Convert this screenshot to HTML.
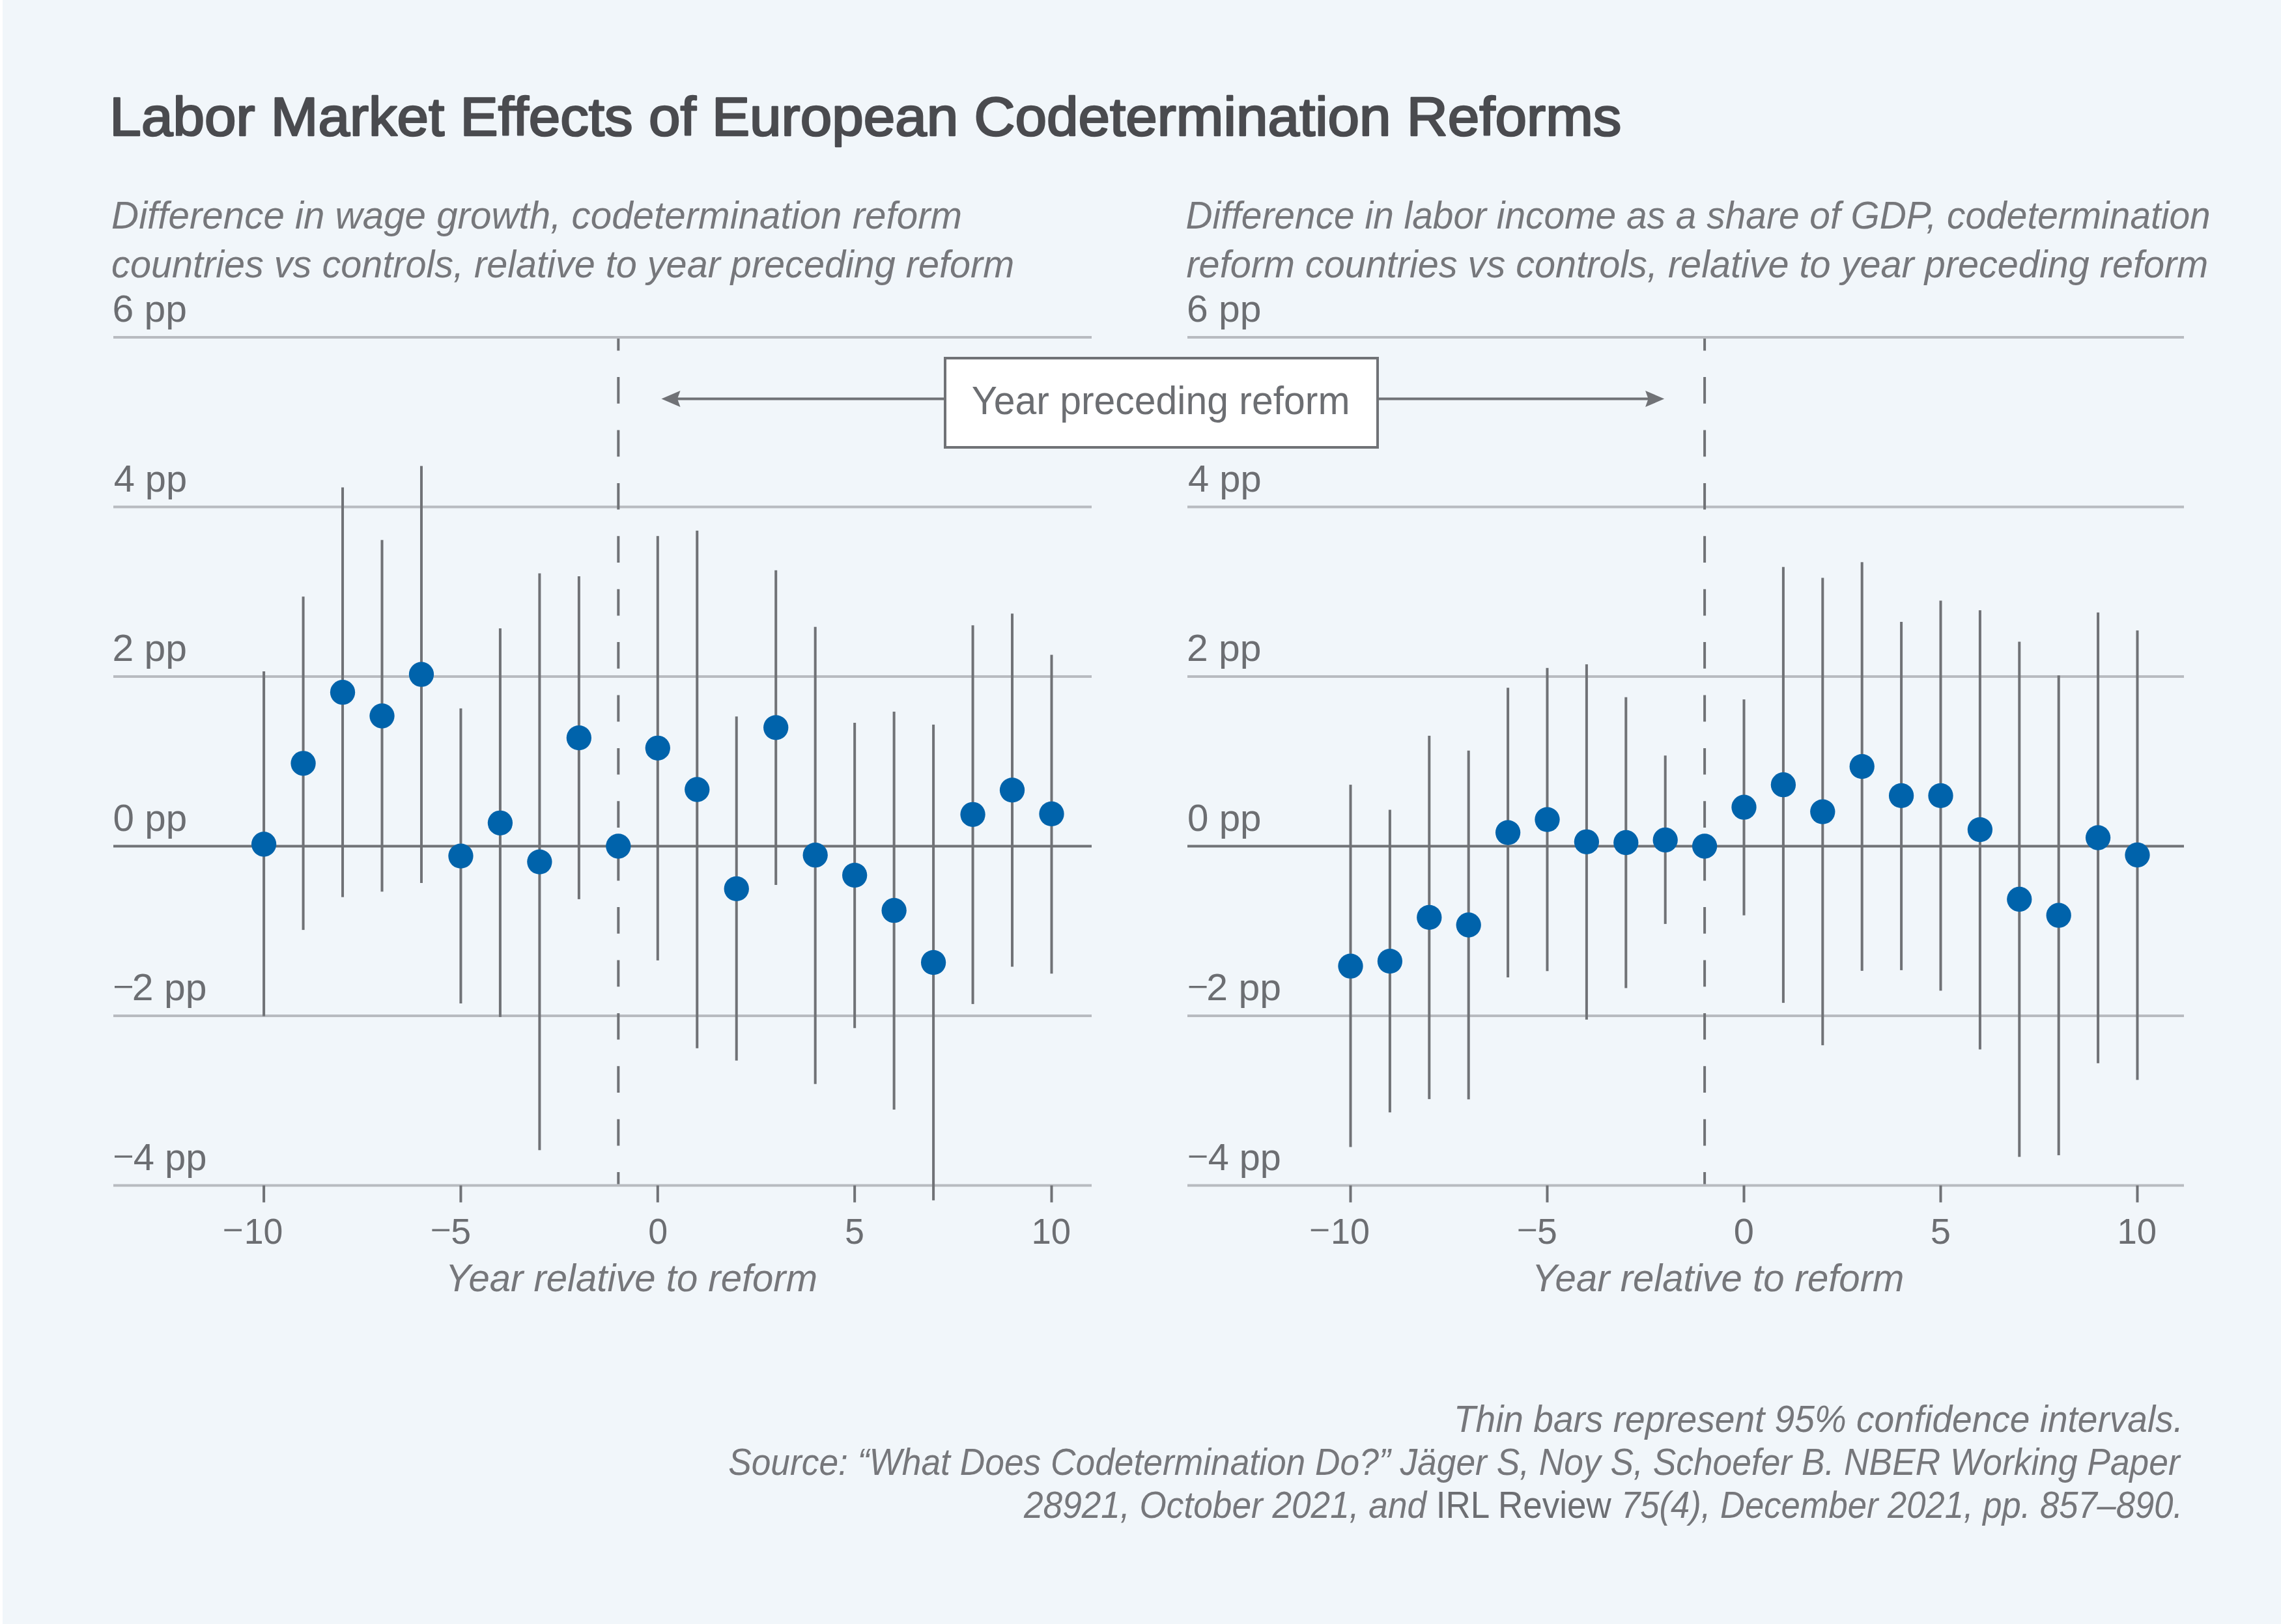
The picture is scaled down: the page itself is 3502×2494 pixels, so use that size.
<!DOCTYPE html>
<html><head><meta charset="utf-8"><title>Labor Market Effects of European Codetermination Reforms</title>
<style>
html,body{margin:0;padding:0;background:#f1f6fa;}
body{width:3502px;height:2494px;overflow:hidden;position:relative;}
svg{position:absolute;left:0;top:0;display:block;}
text{font-family:"Liberation Sans", sans-serif;}
.edge{position:absolute;left:0;top:0;width:3.5px;height:2494px;background:#ffffff;}
</style></head><body>
<svg width="3502" height="2494" viewBox="0 0 3502 2494">
<rect x="0" y="0" width="3502" height="2494" fill="#f1f6fa"/>
<rect x="174" y="516" width="1502" height="4" fill="#b8bbc0"/>
<rect x="174" y="776.5" width="1502" height="4" fill="#b8bbc0"/>
<rect x="174" y="1037" width="1502" height="4" fill="#b8bbc0"/>
<rect x="174" y="1297.5" width="1502" height="4" fill="#707276"/>
<rect x="174" y="1558" width="1502" height="4" fill="#b8bbc0"/>
<rect x="174" y="1818.5" width="1502" height="4" fill="#b8bbc0"/>
<rect x="403.1" y="1820.5" width="4" height="26" fill="#707276"/>
<rect x="705.45" y="1820.5" width="4" height="26" fill="#707276"/>
<rect x="1007.8" y="1820.5" width="4" height="26" fill="#707276"/>
<rect x="1310.15" y="1820.5" width="4" height="26" fill="#707276"/>
<rect x="1612.5" y="1820.5" width="4" height="26" fill="#707276"/>
<line x1="949.33" y1="520" x2="949.33" y2="1818.5" stroke="#707276" stroke-width="4" stroke-dasharray="40.7 40.7" stroke-dashoffset="22.3"/>
<rect x="403.1" y="1031" width="4" height="529.5" fill="#707276"/>
<rect x="463.57" y="916.2" width="4" height="511.9" fill="#707276"/>
<rect x="524.04" y="748.5" width="4" height="629.2" fill="#707276"/>
<rect x="584.51" y="829.3" width="4" height="540" fill="#707276"/>
<rect x="644.98" y="715.6" width="4" height="640.4" fill="#707276"/>
<rect x="705.45" y="1087.9" width="4" height="453.1" fill="#707276"/>
<rect x="765.92" y="965" width="4" height="596.8" fill="#707276"/>
<rect x="826.39" y="880.5" width="4" height="885.8" fill="#707276"/>
<rect x="886.86" y="885" width="4" height="495.9" fill="#707276"/>
<rect x="1007.8" y="823.2" width="4" height="651.7" fill="#707276"/>
<rect x="1068.27" y="814.9" width="4" height="794.9" fill="#707276"/>
<rect x="1128.74" y="1100.3" width="4" height="528.4" fill="#707276"/>
<rect x="1189.21" y="875.8" width="4" height="483.2" fill="#707276"/>
<rect x="1249.68" y="962.7" width="4" height="702" fill="#707276"/>
<rect x="1310.15" y="1110" width="4" height="468.8" fill="#707276"/>
<rect x="1370.62" y="1092.9" width="4" height="611.1" fill="#707276"/>
<rect x="1431.09" y="1112.8" width="4" height="730.6" fill="#707276"/>
<rect x="1491.56" y="960.3" width="4" height="581.6" fill="#707276"/>
<rect x="1552.03" y="942.3" width="4" height="542.3" fill="#707276"/>
<rect x="1612.5" y="1005.6" width="4" height="489.6" fill="#707276"/>
<circle cx="405.1" cy="1296.5" r="19.15" fill="#0063ab"/>
<circle cx="465.57" cy="1172.3" r="19.15" fill="#0063ab"/>
<circle cx="526.04" cy="1063.2" r="19.15" fill="#0063ab"/>
<circle cx="586.51" cy="1099.5" r="19.15" fill="#0063ab"/>
<circle cx="646.98" cy="1035.7" r="19.15" fill="#0063ab"/>
<circle cx="707.45" cy="1314.6" r="19.15" fill="#0063ab"/>
<circle cx="767.92" cy="1263.8" r="19.15" fill="#0063ab"/>
<circle cx="828.39" cy="1323.6" r="19.15" fill="#0063ab"/>
<circle cx="888.86" cy="1133.1" r="19.15" fill="#0063ab"/>
<circle cx="949.33" cy="1299.5" r="19.15" fill="#0063ab"/>
<circle cx="1009.8" cy="1148.8" r="19.15" fill="#0063ab"/>
<circle cx="1070.27" cy="1212.5" r="19.15" fill="#0063ab"/>
<circle cx="1130.74" cy="1364.9" r="19.15" fill="#0063ab"/>
<circle cx="1191.21" cy="1117.4" r="19.15" fill="#0063ab"/>
<circle cx="1251.68" cy="1313.2" r="19.15" fill="#0063ab"/>
<circle cx="1312.15" cy="1344.1" r="19.15" fill="#0063ab"/>
<circle cx="1372.62" cy="1398.2" r="19.15" fill="#0063ab"/>
<circle cx="1433.09" cy="1478.1" r="19.15" fill="#0063ab"/>
<circle cx="1493.56" cy="1250.8" r="19.15" fill="#0063ab"/>
<circle cx="1554.03" cy="1213.4" r="19.15" fill="#0063ab"/>
<circle cx="1614.5" cy="1249.9" r="19.15" fill="#0063ab"/>
<rect x="1823" y="516" width="1530" height="4" fill="#b8bbc0"/>
<rect x="1823" y="776.5" width="1530" height="4" fill="#b8bbc0"/>
<rect x="1823" y="1037" width="1530" height="4" fill="#b8bbc0"/>
<rect x="1823" y="1297.5" width="1530" height="4" fill="#707276"/>
<rect x="1823" y="1558" width="1530" height="4" fill="#b8bbc0"/>
<rect x="1823" y="1818.5" width="1530" height="4" fill="#b8bbc0"/>
<rect x="2071.5" y="1820.5" width="4" height="26" fill="#707276"/>
<rect x="2373.5" y="1820.5" width="4" height="26" fill="#707276"/>
<rect x="2675.5" y="1820.5" width="4" height="26" fill="#707276"/>
<rect x="2977.5" y="1820.5" width="4" height="26" fill="#707276"/>
<rect x="3279.5" y="1820.5" width="4" height="26" fill="#707276"/>
<line x1="2617.1" y1="520" x2="2617.1" y2="1818.5" stroke="#707276" stroke-width="4" stroke-dasharray="40.7 40.7" stroke-dashoffset="22.3"/>
<rect x="2071.5" y="1205.1" width="4" height="556.4" fill="#707276"/>
<rect x="2131.9" y="1243.6" width="4" height="464.7" fill="#707276"/>
<rect x="2192.3" y="1129.9" width="4" height="558" fill="#707276"/>
<rect x="2252.7" y="1152.7" width="4" height="535.6" fill="#707276"/>
<rect x="2313.1" y="1056.2" width="4" height="444.8" fill="#707276"/>
<rect x="2373.5" y="1025.8" width="4" height="465.5" fill="#707276"/>
<rect x="2433.9" y="1020.2" width="4" height="545.6" fill="#707276"/>
<rect x="2494.3" y="1070.7" width="4" height="446.7" fill="#707276"/>
<rect x="2554.7" y="1160.3" width="4" height="258.6" fill="#707276"/>
<rect x="2675.5" y="1074.1" width="4" height="331.6" fill="#707276"/>
<rect x="2735.9" y="870.7" width="4" height="669.4" fill="#707276"/>
<rect x="2796.3" y="887.4" width="4" height="717.8" fill="#707276"/>
<rect x="2856.7" y="863.3" width="4" height="627.6" fill="#707276"/>
<rect x="2917.1" y="955" width="4" height="534.9" fill="#707276"/>
<rect x="2977.5" y="922.4" width="4" height="599" fill="#707276"/>
<rect x="3037.9" y="937.2" width="4" height="674.4" fill="#707276"/>
<rect x="3098.3" y="985.5" width="4" height="791.1" fill="#707276"/>
<rect x="3158.7" y="1037.2" width="4" height="736.9" fill="#707276"/>
<rect x="3219.1" y="940.6" width="4" height="692.2" fill="#707276"/>
<rect x="3279.5" y="968.2" width="4" height="690.2" fill="#707276"/>
<circle cx="2073.5" cy="1483.7" r="19.15" fill="#0063ab"/>
<circle cx="2133.9" cy="1476.1" r="19.15" fill="#0063ab"/>
<circle cx="2194.3" cy="1408.9" r="19.15" fill="#0063ab"/>
<circle cx="2254.7" cy="1420.5" r="19.15" fill="#0063ab"/>
<circle cx="2315.1" cy="1278.6" r="19.15" fill="#0063ab"/>
<circle cx="2375.5" cy="1258.6" r="19.15" fill="#0063ab"/>
<circle cx="2435.9" cy="1292.8" r="19.15" fill="#0063ab"/>
<circle cx="2496.3" cy="1294" r="19.15" fill="#0063ab"/>
<circle cx="2556.7" cy="1290" r="19.15" fill="#0063ab"/>
<circle cx="2617.1" cy="1299.5" r="19.15" fill="#0063ab"/>
<circle cx="2677.5" cy="1239.7" r="19.15" fill="#0063ab"/>
<circle cx="2737.9" cy="1205.2" r="19.15" fill="#0063ab"/>
<circle cx="2798.3" cy="1246.6" r="19.15" fill="#0063ab"/>
<circle cx="2858.7" cy="1177.1" r="19.15" fill="#0063ab"/>
<circle cx="2919.1" cy="1221.9" r="19.15" fill="#0063ab"/>
<circle cx="2979.5" cy="1221.9" r="19.15" fill="#0063ab"/>
<circle cx="3039.9" cy="1274.1" r="19.15" fill="#0063ab"/>
<circle cx="3100.3" cy="1381" r="19.15" fill="#0063ab"/>
<circle cx="3160.7" cy="1405.7" r="19.15" fill="#0063ab"/>
<circle cx="3221.1" cy="1286.5" r="19.15" fill="#0063ab"/>
<circle cx="3281.5" cy="1313" r="19.15" fill="#0063ab"/>
<rect x="1040" y="610.5" width="409" height="4" fill="#707276"/>
<rect x="2117" y="610.5" width="414" height="4" fill="#707276"/>
<path d="M1015.4 612.5 L1044.5 600 L1040 612.5 L1044.5 625 Z" fill="#707276"/>
<path d="M2555.2 612.5 L2526.1 600 L2530.6 612.5 L2526.1 625 Z" fill="#707276"/>
<rect x="1451" y="550" width="664" height="137" fill="#ffffff" stroke="#707276" stroke-width="4"/>
<rect x="176" y="1514" width="27" height="3.3" fill="#6c6e72"/>
<rect x="1825.6" y="1514" width="27" height="3.3" fill="#6c6e72"/>
<rect x="176" y="1774.5" width="27" height="3.3" fill="#6c6e72"/>
<rect x="1825.6" y="1774.5" width="27" height="3.3" fill="#6c6e72"/>
<rect x="344.35" y="1887.5" width="26.7" height="3.3" fill="#6c6e72"/>
<rect x="663.4" y="1887.5" width="26.7" height="3.3" fill="#6c6e72"/>
<rect x="2012.75" y="1887.5" width="26.7" height="3.3" fill="#6c6e72"/>
<rect x="2331.45" y="1887.5" width="26.7" height="3.3" fill="#6c6e72"/>
<text id="title" x="168.39" y="208.2" font-size="84" fill="#4a4b4f" stroke="#4a4b4f" stroke-width="2.6" stroke-linejoin="round" textLength="2321.09" lengthAdjust="spacingAndGlyphs">Labor Market Effects of European Codetermination Reforms</text>
<text id="ls1" x="171.06" y="351.2" font-size="60" fill="#76777b" font-style="italic" textLength="1306.13" lengthAdjust="spacingAndGlyphs">Difference in wage growth, codetermination reform</text>
<text id="ls2" x="171.08" y="425.8" font-size="60" fill="#76777b" font-style="italic" textLength="1386.17" lengthAdjust="spacingAndGlyphs">countries vs controls, relative to year preceding reform</text>
<text id="rs1" x="1820.5" y="351.2" font-size="60" fill="#76777b" font-style="italic" textLength="1573.22" lengthAdjust="spacingAndGlyphs">Difference in labor income as a share of GDP, codetermination</text>
<text id="rs2" x="1821.44" y="425.8" font-size="60" fill="#76777b" font-style="italic" textLength="1568.73" lengthAdjust="spacingAndGlyphs">reform countries vs controls, relative to year preceding reform</text>
<text id="xt_l" x="683.92" y="1983.3" font-size="59" fill="#76777b" font-style="italic" textLength="571.16" lengthAdjust="spacingAndGlyphs">Year relative to reform</text>
<text id="xt_r" x="2352.09" y="1983.3" font-size="59" fill="#76777b" font-style="italic" textLength="571.29" lengthAdjust="spacingAndGlyphs">Year relative to reform</text>
<text id="box" x="1491.86" y="635.5" font-size="61" fill="#6c6e72" textLength="580.64" lengthAdjust="spacingAndGlyphs">Year preceding reform</text>
<text id="f1" x="2231.88" y="2199" font-size="58" fill="#76777b" font-style="italic" textLength="1120.16" lengthAdjust="spacingAndGlyphs">Thin bars represent 95% confidence intervals.</text>
<text id="f2" x="1118.16" y="2264.7" font-size="58" fill="#76777b" font-style="italic" textLength="2228.51" lengthAdjust="spacingAndGlyphs">Source: “What Does Codetermination Do?” Jäger S, Noy S, Schoefer B. NBER Working Paper</text>
<text id="f3a" x="1572" y="2330.5" font-size="58" fill="#76777b" font-style="italic" textLength="618.08" lengthAdjust="spacingAndGlyphs">28921, October 2021, and</text>
<text id="f3b" x="2204.75" y="2330.5" font-size="58" fill="#6c6e72" textLength="268.93" lengthAdjust="spacingAndGlyphs">IRL Review</text>
<text id="f3c" x="2489.01" y="2330.5" font-size="58" fill="#76777b" font-style="italic" textLength="862.18" lengthAdjust="spacingAndGlyphs">75(4), December 2021, pp. 857–890.</text>
<text id="yl6" x="172.53" y="494.3" font-size="58" fill="#6c6e72" textLength="114.58" lengthAdjust="spacingAndGlyphs">6 pp</text>
<text id="yr6" x="1821.91" y="494.3" font-size="58" fill="#6c6e72" textLength="114.56" lengthAdjust="spacingAndGlyphs">6 pp</text>
<text id="yl4" x="174.63" y="754.8" font-size="58" fill="#6c6e72" textLength="112.53" lengthAdjust="spacingAndGlyphs">4 pp</text>
<text id="yr4" x="1824.03" y="754.8" font-size="58" fill="#6c6e72" textLength="112.53" lengthAdjust="spacingAndGlyphs">4 pp</text>
<text id="yl2" x="172.53" y="1015.3" font-size="58" fill="#6c6e72" textLength="114.58" lengthAdjust="spacingAndGlyphs">2 pp</text>
<text id="yr2" x="1821.91" y="1015.3" font-size="58" fill="#6c6e72" textLength="114.56" lengthAdjust="spacingAndGlyphs">2 pp</text>
<text id="yl0" x="173.62" y="1275.8" font-size="58" fill="#6c6e72" textLength="113.54" lengthAdjust="spacingAndGlyphs">0 pp</text>
<text id="yr0" x="1823.02" y="1275.8" font-size="58" fill="#6c6e72" textLength="113.54" lengthAdjust="spacingAndGlyphs">0 pp</text>
<text id="yl-2" x="202.86" y="1536.3" font-size="58" fill="#6c6e72" textLength="114.57" lengthAdjust="spacingAndGlyphs">2 pp</text>
<text id="yr-2" x="1852.28" y="1536.3" font-size="58" fill="#6c6e72" textLength="114.63" lengthAdjust="spacingAndGlyphs">2 pp</text>
<text id="yl-4" x="204.74" y="1796.8" font-size="58" fill="#6c6e72" textLength="112.73" lengthAdjust="spacingAndGlyphs">4 pp</text>
<text id="yr-4" x="1854.79" y="1796.8" font-size="58" fill="#6c6e72" textLength="112.11" lengthAdjust="spacingAndGlyphs">4 pp</text>
<text id="xl-10" x="374.79" y="1910" font-size="56" fill="#6c6e72" textLength="59.66" lengthAdjust="spacingAndGlyphs">10</text>
<text id="xl-5" x="692.3" y="1910" font-size="56" fill="#6c6e72" textLength="30.9" lengthAdjust="spacingAndGlyphs">5</text>
<text id="xl0" x="995.14" y="1910" font-size="56" fill="#6c6e72" textLength="29.94" lengthAdjust="spacingAndGlyphs">0</text>
<text id="xl5" x="1297.09" y="1910" font-size="56" fill="#6c6e72" textLength="29.94" lengthAdjust="spacingAndGlyphs">5</text>
<text id="xl10" x="1583.55" y="1910" font-size="56" fill="#6c6e72" textLength="60.66" lengthAdjust="spacingAndGlyphs">10</text>
<text id="xr-10" x="2042.91" y="1910" font-size="56" fill="#6c6e72" textLength="59.98" lengthAdjust="spacingAndGlyphs">10</text>
<text id="xr-5" x="2360.07" y="1910" font-size="56" fill="#6c6e72" textLength="30.81" lengthAdjust="spacingAndGlyphs">5</text>
<text id="xr0" x="2661.86" y="1910" font-size="56" fill="#6c6e72" textLength="31.15" lengthAdjust="spacingAndGlyphs">0</text>
<text id="xr5" x="2963.83" y="1910" font-size="56" fill="#6c6e72" textLength="31.23" lengthAdjust="spacingAndGlyphs">5</text>
<text id="xr10" x="3250.55" y="1910" font-size="56" fill="#6c6e72" textLength="60.66" lengthAdjust="spacingAndGlyphs">10</text>
</svg>
<div class="edge"></div>
</body></html>
